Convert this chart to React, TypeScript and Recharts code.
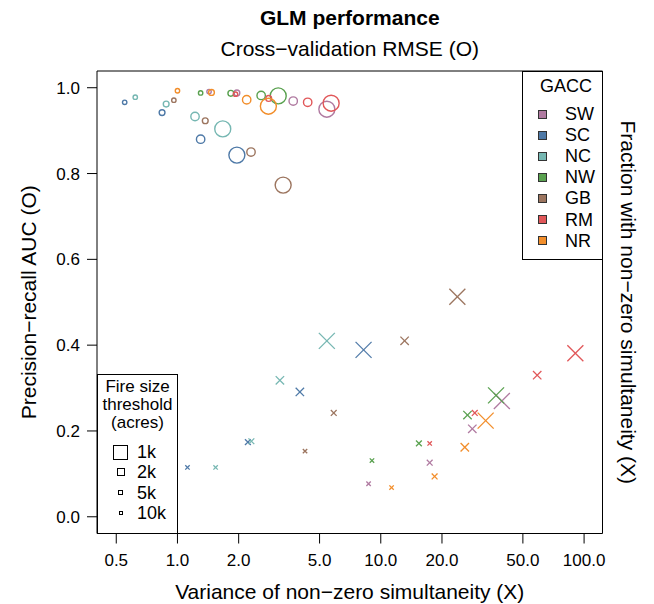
import React from 'react'
import { ScatterChart, Scatter, XAxis, YAxis } from 'recharts'

// GACC regions and the colour used for each one
const regions = ['SW', 'SC', 'NC', 'NW', 'GB', 'RM', 'NR']
const regionColors = ['#B07AA1', '#4E79A7', '#76B7B2', '#59A14F', '#9C755F', '#E15759', '#F28E2B']

// fire size thresholds (acres)
const thresholds = ['1k', '2k', '5k', '10k']

// circles (O): cross-validation RMSE vs precision-recall AUC, per region, thresholds 1k..10k
const rmseByRegion = [
  [5.43, 3.71, 1.96, 1.43],
  [1.96, 1.3, 0.84, 0.55],
  [1.67, 1.22, 0.88, 0.62],
  [3.13, 2.58, 1.83, 1.3],
  [3.31, 2.3, 1.37, 0.96],
  [5.7, 4.37, 2.81, 1.93],
  [2.8, 2.19, 1.47, 1.0]
]
const aucByRegion = [
  [0.95, 0.969, 0.988, 0.991],
  [0.843, 0.88, 0.942, 0.966],
  [0.904, 0.933, 0.962, 0.978],
  [0.981, 0.982, 0.987, 0.988],
  [0.773, 0.85, 0.923, 0.971],
  [0.964, 0.966, 0.975, 0.985],
  [0.957, 0.972, 0.989, 0.993]
]

// crosses (X): variance of non-zero simultaneity vs fraction with non-zero simultaneity
const varianceByRegion = [
  [39.4, 28.2, 17.4, 8.71],
  [8.23, 4.0, 2.22, 1.12],
  [5.43, 3.19, 2.31, 1.54],
  [36.9, 26.7, 15.4, 9.05],
  [23.8, 13.1, 5.87, 4.24],
  [90.6, 58.8, 29.0, 17.4],
  [32.8, 25.9, 18.4, 11.3]
]
const fractionByRegion = [
  [0.27, 0.205, 0.126, 0.077],
  [0.389, 0.291, 0.174, 0.115],
  [0.41, 0.318, 0.176, 0.115],
  [0.283, 0.237, 0.171, 0.131],
  [0.513, 0.41, 0.242, 0.153],
  [0.381, 0.33, 0.242, 0.171],
  [0.224, 0.162, 0.094, 0.068]
]

const xTicks = [0.5, 1, 2, 5, 10, 20, 50, 100]
const yTicks = [0, 0.2, 0.4, 0.6, 0.8, 1.0]

// marker half-size per threshold
const markerRadius = [8, 4.2, 2.9, 2.2]
const legendSquare = [15, 8, 5.5, 4]

const FONT = '"Liberation Sans", Arial, Helvetica, sans-serif'
const X_DOMAIN = [0.402, 123.2]
const Y_DOMAIN = [-0.039, 1.039]

const circleShape = (color: string) => (props: any) => {
  const { cx, cy, payload } = props
  return (
    <circle cx={cx} cy={cy} r={markerRadius[payload.t]} fill="none" stroke={color} strokeWidth={1.4} />
  )
}

const crossShape = (color: string) => (props: any) => {
  const { cx, cy, payload } = props
  const r = markerRadius[payload.t]
  return (
    <g stroke={color} strokeWidth={1.3}>
      <line x1={cx - r} y1={cy - r} x2={cx + r} y2={cy + r} />
      <line x1={cx - r} y1={cy + r} x2={cx + r} y2={cy - r} />
    </g>
  )
}

const leftTitle = (props: any) => {
  const vb = props.viewBox || {}
  const x = 28
  const y = (vb.y ?? 71) + (vb.height ?? 462.5) / 2
  return (
    <text x={x} y={y} transform={`rotate(-90 ${x} ${y})`} textAnchor="middle" dominantBaseline="central"
      fontSize={21} fill="#000" fontFamily={FONT}>
      Precision−recall AUC (O)
    </text>
  )
}

const rightTitle = (props: any) => {
  const vb = props.viewBox || {}
  const x = 628
  const y = (vb.y ?? 71) + (vb.height ?? 462.5) / 2
  return (
    <text x={x} y={y} transform={`rotate(90 ${x} ${y})`} textAnchor="middle" dominantBaseline="central"
      fontSize={21} fill="#000" fontFamily={FONT}>
      Fraction with non−zero simultaneity (X)
    </text>
  )
}

const bottomTitle = (props: any) => {
  const vb = props.viewBox || {}
  const x = (vb.x ?? 97) + (vb.width ?? 505.5) / 2
  return (
    <text x={x} y={591.5} textAnchor="middle" dominantBaseline="central" fontSize={21} fill="#000" fontFamily={FONT}>
      Variance of non−zero simultaneity (X)
    </text>
  )
}

const topTitle = (props: any) => {
  const vb = props.viewBox || {}
  const x = (vb.x ?? 97) + (vb.width ?? 505.5) / 2
  return (
    <text x={x} y={48.5} textAnchor="middle" dominantBaseline="central" fontSize={21} fill="#000" fontFamily={FONT}>
      Cross−validation RMSE (O)
    </text>
  )
}

export default function App() {
  const circleData = regions.map((_, r) =>
    thresholds.map((_, t) => ({ x: rmseByRegion[r][t], y: aucByRegion[r][t], t }))
  )
  const crossData = regions.map((_, r) =>
    thresholds.map((_, t) => ({ x: varianceByRegion[r][t], y: fractionByRegion[r][t], t }))
  )

  return (
    <div style={{ position: 'absolute', left: 0, top: 0, width: 654, height: 604, fontFamily: FONT, background: '#fff' }}>
      <div style={{ position: 'absolute', left: 97, width: 505.5, top: 5, textAlign: 'center', fontSize: 21, fontWeight: 'bold', lineHeight: '26px' }}>
        GLM performance
      </div>
      <ScatterChart width={654} height={604} margin={{ top: 31, right: 0, bottom: 0, left: 0 }}>
        <XAxis xAxisId="bottom" dataKey="x" type="number" scale="log" domain={X_DOMAIN} allowDataOverflow
          ticks={xTicks} interval={0} tickFormatter={(v: number) => v.toFixed(1)} height={70.5}
          tickSize={10} tickMargin={10} stroke="#000" tick={{ fontSize: 17, fill: '#000', fontFamily: FONT }}
          label={{ content: bottomTitle }} />
        <XAxis xAxisId="top" orientation="top" dataKey="x" type="number" scale="log" domain={X_DOMAIN} allowDataOverflow
          height={40} tick={false} tickLine={false} stroke="#000" label={{ content: topTitle }} />
        <YAxis yAxisId="left" dataKey="y" type="number" domain={Y_DOMAIN} allowDataOverflow ticks={yTicks} interval={0}
          tickFormatter={(v: number) => v.toFixed(1)} width={97} tickSize={10} tickMargin={7} stroke="#000"
          tick={{ fontSize: 17, fill: '#000', fontFamily: FONT }} label={{ content: leftTitle }} />
        <YAxis yAxisId="right" orientation="right" dataKey="y" type="number" domain={Y_DOMAIN} allowDataOverflow
          width={51.5} tick={false} tickLine={false} stroke="#000" label={{ content: rightTitle }} />
        {regions.map((name, r) => (
          <Scatter key={`o-${name}`} name={name} data={circleData[r]} xAxisId="top" yAxisId="left"
            shape={circleShape(regionColors[r])} isAnimationActive={false} />
        ))}
        {regions.map((name, r) => (
          <Scatter key={`x-${name}`} name={name} data={crossData[r]} xAxisId="bottom" yAxisId="right"
            shape={crossShape(regionColors[r])} isAnimationActive={false} />
        ))}
      </ScatterChart>

      {/* GACC legend */}
      <div style={{ position: 'absolute', left: 522, top: 71, width: 80.5, height: 189, boxSizing: 'border-box', border: '1px solid #000', background: '#fff', fontSize: 18 }}>
        <div style={{ position: 'absolute', left: 0, width: 86, top: 3, textAlign: 'center', lineHeight: '22px' }}>GACC</div>
        {regions.map((name, r) => (
          <div key={name} style={{ position: 'absolute', left: 0, top: 31 + r * 21.1, height: 22, width: 80 }}>
            <div style={{ position: 'absolute', left: 15, top: 6.5, width: 9, height: 9, boxSizing: 'border-box', border: '1px solid #333', background: regionColors[r] }} />
            <div style={{ position: 'absolute', left: 42, top: 0, lineHeight: '22px' }}>{name}</div>
          </div>
        ))}
      </div>

      {/* fire size legend */}
      <div style={{ position: 'absolute', left: 97, top: 374, width: 81, height: 160, boxSizing: 'border-box', border: '1px solid #000', background: '#fff', fontSize: 17 }}>
        <div style={{ position: 'absolute', left: 0, width: 79, top: 3, textAlign: 'center', lineHeight: '18px' }}>
          Fire size<br />threshold<br />(acres)
        </div>
        {thresholds.map((t, i) => (
          <div key={t} style={{ position: 'absolute', left: 0, top: 66 + i * 20.3, height: 22, width: 79, fontSize: 18 }}>
            <div style={{ position: 'absolute', left: 22.5 - legendSquare[i] / 2, top: 11 - legendSquare[i] / 2, width: legendSquare[i], height: legendSquare[i], boxSizing: 'border-box', border: '1px solid #000' }} />
            <div style={{ position: 'absolute', left: 39, top: 0, lineHeight: '22px' }}>{t}</div>
          </div>
        ))}
      </div>
    </div>
  )
}
